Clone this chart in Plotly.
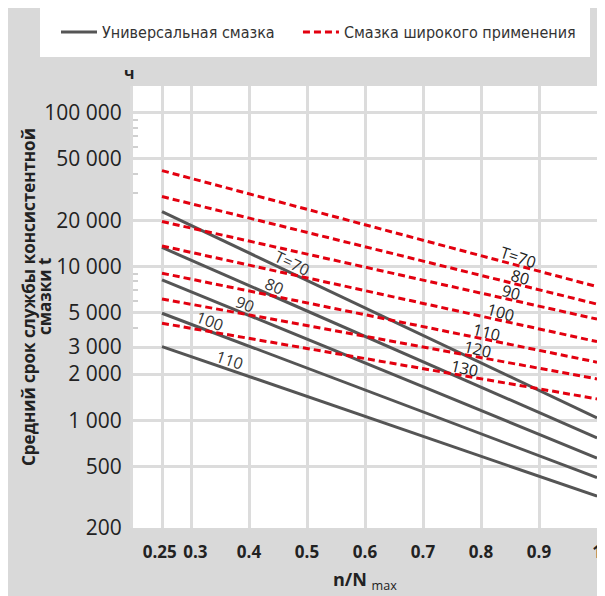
import math
import plotly.graph_objects as go

# n/N max at both ends of every line
load_ratio = [0.25, 1.0]

# universal grease (grey, solid)
universal_temps = [70, 80, 90, 100, 110]
universal_start = [22700, 13300, 8200, 4970, 3020]
universal_end = [1040, 770, 570, 425, 322]

# general purpose grease (red, dashed)
general_temps = [70, 80, 90, 100, 110, 120, 130]
general_start = [42000, 28500, 19600, 13600, 9050, 6160, 4280]
general_end = [7400, 5700, 4550, 3250, 2390, 1860, 1380]

x_ticks = [0.25, 0.3, 0.4, 0.5, 0.6, 0.7, 0.8, 0.9, 1.0]
x_ticktext = ['0.25\u00a0', '\u00a0\u00a00.3', '0.4', '0.5', '0.6', '0.7', '0.8', '0.9', '1']
y_ticks = [200, 500, 1000, 2000, 3000, 5000, 10000, 20000, 50000, 100000]
y_ticktext = ['200', '500', '1 000', '2 000', '3 000', '5 000', '10 000', '20 000', '50 000', '100 000']
y_minor = [4000, 6000, 7000, 8000, 9000, 30000, 40000, 60000, 70000, 80000, 90000]

GREY = '#555555'
RED = '#e3000f'
# the page body has an 8px margin, so the figure is drawn 8px in from the corner
OFF = 8
W, H = 605 - OFF, 596 - OFF
ML, MR, MT, MB = 133 - OFF, 8, 86 - OFF, 68
PW, PH = W - ML - MR, H - MT - MB
X_RANGE = [0.2, 1.0]
Y_RANGE = [math.log10(200), 5.173]
PX_X = PW / (X_RANGE[1] - X_RANGE[0])
PX_Y = PH / (Y_RANGE[1] - Y_RANGE[0])


def px_x(px):
    """window pixel x -> paper fraction"""
    return (px - OFF - ML) / PW


def px_y(px):
    """window pixel y -> paper fraction"""
    return (MT + PH - (px - OFF)) / PH


def y_on_line(x, y0, y1):
    """log-linear interpolation along a line"""
    t = (x - load_ratio[0]) / (load_ratio[1] - load_ratio[0])
    return 10 ** (math.log10(y0) + t * (math.log10(y1) - math.log10(y0)))


def line_angle(y0, y1):
    dx = (load_ratio[1] - load_ratio[0]) * PX_X
    dy = (math.log10(y0) - math.log10(y1)) * PX_Y
    return math.degrees(math.atan2(dy, dx))


fig = go.Figure()

for i, temp in enumerate(universal_temps):
    fig.add_trace(go.Scatter(x=load_ratio, y=[universal_start[i], universal_end[i]],
                             mode='lines', name='Универсальная смазка' + '\u00a0' * 4,
                             legendgroup='u', showlegend=(i == 0),
                             line=dict(color=GREY, width=3)))

for i, temp in enumerate(general_temps):
    fig.add_trace(go.Scatter(x=load_ratio, y=[general_start[i], general_end[i]],
                             mode='lines', name='Смазка широкого применения',
                             legendgroup='g', showlegend=(i == 0),
                             line=dict(color=RED, width=3, dash='7px,4px')))

# line labels
universal_label_x = [0.474, 0.443, 0.393, 0.332, 0.367]
general_label_x = [0.863, 0.867, 0.851, 0.833, 0.809, 0.794, 0.771]

for i, temp in enumerate(universal_temps):
    txt = f'T={temp}' if i == 0 else str(temp)
    lx = universal_label_x[i]
    fig.add_annotation(x=lx, y=math.log10(y_on_line(lx, universal_start[i], universal_end[i])),
                       text=txt, showarrow=False, yshift=10,
                       textangle=line_angle(universal_start[i], universal_end[i]),
                       font=dict(family='Open Sans', size=16, color='#333333'))

for i, temp in enumerate(general_temps):
    txt = f'T={temp}' if i == 0 else str(temp)
    lx = general_label_x[i]
    fig.add_annotation(x=lx, y=math.log10(y_on_line(lx, general_start[i], general_end[i])),
                       text=txt, showarrow=False, yshift=8,
                       textangle=line_angle(general_start[i], general_end[i]) + 3,
                       font=dict(family='Open Sans', size=16, color='#222222'))

# axis texts (y title as two centred lines)
y_title_lines = ['Средний срок службы консистентной', 'смазки t']
for line_x, line_text in zip([28, 44], y_title_lines):
    fig.add_annotation(xref='paper', yref='paper', x=px_x(line_x), y=px_y(297),
                       text=f'<b>{line_text}</b>', textangle=-90, showarrow=False,
                       xanchor='center', yanchor='middle',
                       font=dict(family='Open Sans', size=17, color='#222222'))
fig.add_annotation(xref='paper', yref='paper', x=px_x(122), y=px_y(73),
                   text='<b>ч</b>', showarrow=False, yanchor='middle',
                   font=dict(family='Open Sans', size=16, color='#222222'))
fig.add_annotation(xref='paper', yref='paper', x=0.5, y=px_y(580),
                   text='<b>n/N</b> <sub>max</sub>', showarrow=False, yanchor='middle',
                   font=dict(family='Open Sans', size=18, color='#222222'))

# white legend box
fig.add_shape(type='rect', xref='paper', yref='paper', layer='below',
              x0=px_x(40), x1=px_x(590), y0=px_y(57), y1=px_y(8),
              fillcolor='white', line=dict(width=0))

fig.update_layout(
    width=W, height=H,
    margin=dict(l=ML, r=MR, t=MT, b=MB, autoexpand=False),
    paper_bgcolor='#d9d9d9', plot_bgcolor='white',
    legend=dict(orientation='h', x=px_x(56), y=px_y(32), itemwidth=36,
                xanchor='left', yanchor='middle', bgcolor='rgba(0,0,0,0)',
                font=dict(family='Liberation Sans Narrow, DejaVu Sans Condensed, sans-serif',
                          size=16, color='#333333')),
    xaxis=dict(range=X_RANGE, tickmode='array', tickvals=x_ticks, ticktext=x_ticktext,
               showgrid=True, gridcolor='#dcdcdc', gridwidth=3, zeroline=False,
               ticklabelstandoff=12, tickangle=0, automargin=False,
               ticklabeloverflow='allow',
               tickfont=dict(family='Open Sans', size=17, color='#222222', weight='bold')),
    yaxis=dict(type='log', range=Y_RANGE, tickmode='array', tickvals=y_ticks,
               ticktext=y_ticktext, showgrid=True, gridcolor='#dcdcdc', gridwidth=3,
               showline=True, linecolor='#dcdcdc', linewidth=3, zeroline=False,
               ticklabelstandoff=4, automargin=False,
               tickfont=dict(family='Open Sans', size=21, color='#222222'),
               minor=dict(tickmode='array', tickvals=y_minor, ticks='inside',
                          ticklen=5, tickwidth=2, tickcolor='#d0d0d0', showgrid=False)),
)

fig.write_html('out.html')
